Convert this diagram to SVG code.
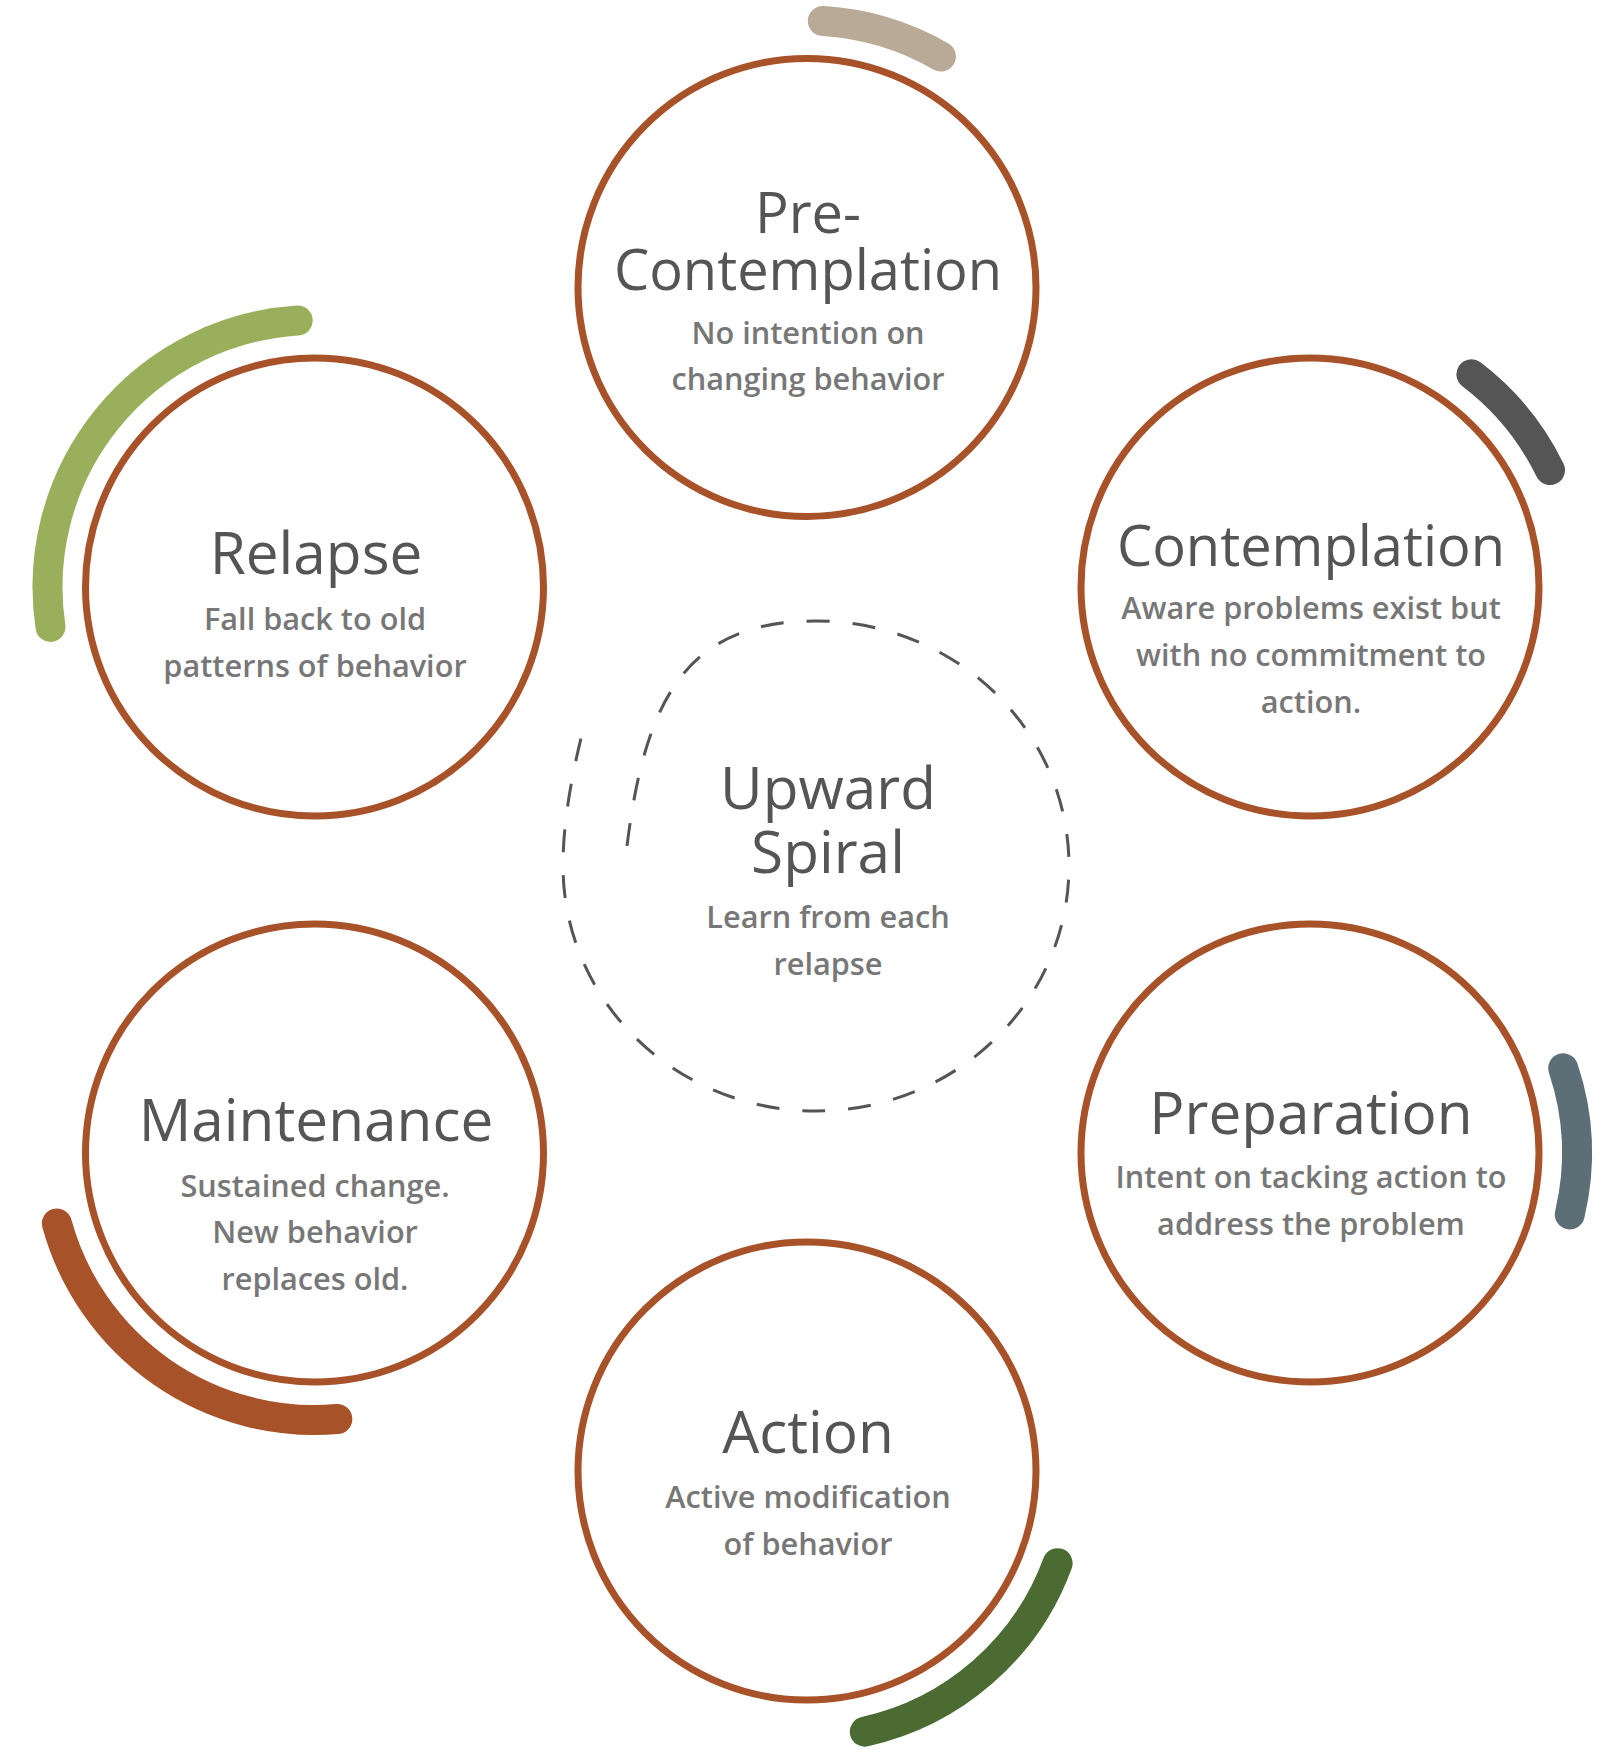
<svg xmlns="http://www.w3.org/2000/svg" width="1612" height="1760" viewBox="0 0 1612 1760">
<style>
.ring{fill:#ffffff;stroke:#A8522A;stroke-width:7}
.arc{fill:none;stroke-width:30;stroke-linecap:round}
.title{font-family:'Open Sans','Noto Sans','DejaVu Sans',sans-serif;font-size:58.5px;font-weight:400;fill:#555555;text-anchor:middle}
.t56{font-size:56px}
.sub{font-family:'Open Sans','Noto Sans','DejaVu Sans',sans-serif;font-size:30.7px;font-weight:600;fill:#777777;text-anchor:middle}
.spiral{fill:none;stroke:#555555;stroke-width:3;stroke-dasharray:23 23}
</style>
<rect width="1612" height="1760" fill="#ffffff"/>
<g id="connectors"></g>
<g id="upward-spiral">
<path class="spiral" d="M 627 846 C 645 700 686 621 816 621 A 253 245 0 1 1 563 866 C 563 816 574 765 586 718"/>
<text class="title" x="828" y="809">Upward</text>
<text class="title" x="828" y="873">Spiral</text>
<text class="sub" x="828" y="928">Learn from each</text>
<text class="sub" x="828" y="975">relapse</text>
</g>
<g id="pre-contemplation">
<path class="arc" stroke="#B8AA96" d="M 822.8 21 A 267 267 0 0 1 940.9 56.5"/>
<circle class="ring" cx="807" cy="287.5" r="229"/>
<text class="title t56" x="808" y="233">Pre-</text>
<text class="title t56" x="808" y="290">Contemplation</text>
<text class="sub" x="808" y="344">No intention on</text>
<text class="sub" x="808" y="390">changing behavior</text>
</g>
<g id="contemplation">
<path class="arc" stroke="#555555" d="M 1471.4 374.3 A 267 267 0 0 1 1550 470"/>
<circle class="ring" cx="1310" cy="587" r="229"/>
<text class="title t56" x="1311" y="566">Contemplation</text>
<text class="sub" x="1311" y="619">Aware problems exist but</text>
<text class="sub" x="1311" y="666">with no commitment to</text>
<text class="sub" x="1311" y="713">action.</text>
</g>
<g id="preparation">
<path class="arc" stroke="#5C6F77" d="M 1563.2 1068.3 A 267 267 0 0 1 1569.8 1214.4"/>
<circle class="ring" cx="1310" cy="1153" r="229"/>
<text class="title" x="1311" y="1134">Preparation</text>
<text class="sub" x="1311" y="1188">Intent on tacking action to</text>
<text class="sub" x="1311" y="1235">address the problem</text>
</g>
<g id="action">
<path class="arc" stroke="#4B6B33" d="M 1057.6 1563.2 A 267 267 0 0 1 864.8 1731.7"/>
<circle class="ring" cx="807" cy="1471" r="229"/>
<text class="title" x="808" y="1453">Action</text>
<text class="sub" x="808" y="1508">Active modification</text>
<text class="sub" x="808" y="1555">of behavior</text>
</g>
<g id="maintenance">
<path class="arc" stroke="#A8522A" d="M 337.3 1419 A 267 267 0 0 1 56.9 1223.5"/>
<circle class="ring" cx="314.5" cy="1153" r="229"/>
<text class="title" x="316" y="1141">Maintenance</text>
<text class="sub" x="315" y="1197">Sustained change.</text>
<text class="sub" x="315" y="1243">New behavior</text>
<text class="sub" x="315" y="1290">replaces old.</text>
</g>
<g id="relapse">
<path class="arc" stroke="#9AAF5C" d="M 50.5 626.9 A 267 267 0 0 1 297.7 320.5"/>
<circle class="ring" cx="314.5" cy="587" r="229"/>
<text class="title" x="316" y="574">Relapse</text>
<text class="sub" x="315" y="630">Fall back to old</text>
<text class="sub" x="315" y="677">patterns of behavior</text>
</g>
</svg>
